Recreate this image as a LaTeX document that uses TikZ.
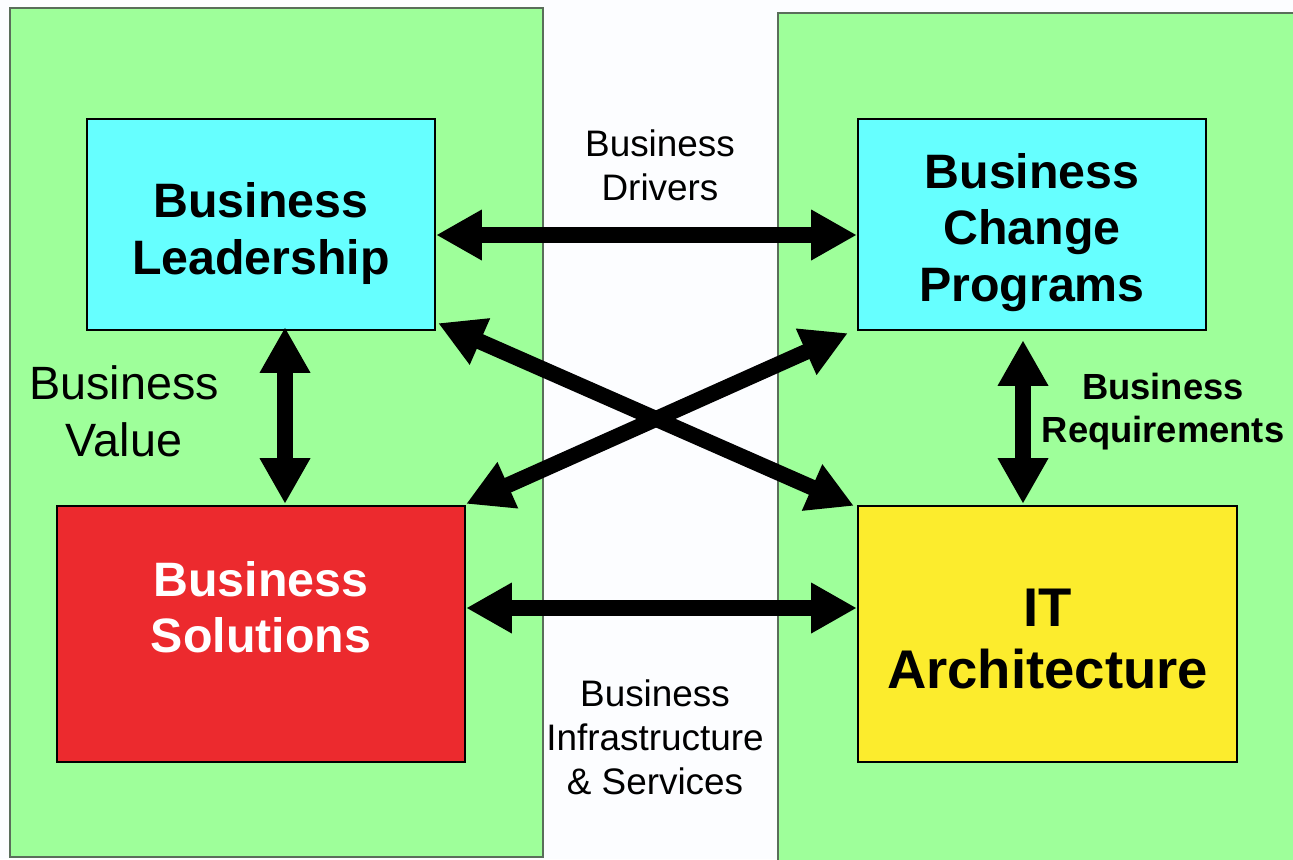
\documentclass[tikz,border=0pt]{standalone}
\usepackage{fontspec}
\setmainfont{Liberation Sans}
\usetikzlibrary{arrows.meta,calc}
\definecolor{panelgreen}{RGB}{158,255,154}
\definecolor{boxcyan}{RGB}{102,255,255}
\definecolor{boxred}{RGB}{236,42,46}
\definecolor{boxyellow}{RGB}{252,236,45}
\definecolor{paneledge}{RGB}{90,110,90}
\definecolor{bgwhite}{RGB}{252,253,255}
\begin{document}
\begin{tikzpicture}[x=0.02cm,y=-0.02cm,
  panel/.style={fill=panelgreen,draw=paneledge,line width=1.2pt},
  box/.style={draw=black,line width=1.3pt,inner sep=0pt},
  boxtxt/.style={align=center,inner sep=0pt,font=\bfseries\fontsize{27.5}{32}\selectfont},
  dbl/.style={line width=9pt,{Triangle[length=26pt,width=27pt]}-{Triangle[length=26pt,width=27pt]}},
  lbl/.style={align=center,font=\fontsize{21}{25}\selectfont}]
\fill[bgwhite] (0,0) rectangle (1293,859);
\useasboundingbox (0,0) rectangle (1293,859);
\draw[panel] (10,8) rectangle (543,857);
\draw[panel] (778,13) rectangle (1310,880);
\node[box,fill=boxcyan,minimum width=348*0.02cm,minimum height=211*0.02cm] (lead) at (261,224.5) {};
\node[box,fill=boxcyan,minimum width=348*0.02cm,minimum height=211*0.02cm] (cp) at (1032,224.5) {};
\node[box,fill=boxred,minimum width=408*0.02cm,minimum height=256*0.02cm] (sol) at (261,634) {};
\node[box,fill=boxyellow,minimum width=379*0.02cm,minimum height=256*0.02cm] (it) at (1047.5,634) {};
\node[boxtxt] (leadtxt) at ($(lead)+(0,9)$) {Business\\Leadership};
\node[boxtxt] (cptxt) at ($(cp)+(0,8)$) {Business\\Change\\Programs};
\node[boxtxt,text=white] (soltxt) at ($(sol)+(0,-27)$) {Business\\Solutions};
\node[boxtxt,font=\bfseries\fontsize{31}{35.5}\selectfont] (ittxt) at ($(it)+(0,5)$) {IT\\Architecture};
\node[lbl] (drv) at (660,165) {Business\\Drivers};
\node[lbl] (inf) at (655,737) {Business\\Infrastructure\\\& Services};
\node[align=center,font=\fontsize{26.6}{32.5}\selectfont] (val) at (124,411) {Business\\Value};
\node[align=center,font=\bfseries\fontsize{20.7}{24.5}\selectfont] (req) at (1163,412) {Business\\Requirements};
\draw[dbl] ($(lead.east)+(0,10.5)$) -- ($(cp.west)+(0,10.5)$);
\draw[dbl] ($(sol.east)+(0,-26)$) -- ($(it.west)+(0,-26)$);
\draw[dbl] ($(lead.south)+(24,-4)$) -- ($(sol.north)+(24,-1)$);
\draw[dbl] ($(cp.south)+(-9,9)$) -- ($(it.north)+(-24.5,-1)$);
\draw[dbl] ($(lead.south east)+(2,-8)$) -- ($(it.north west)+(-3,1)$);
\draw[dbl] ($(sol.north east)+(0,-1)$) -- ($(cp.south west)+(-9,2)$);
\end{tikzpicture}
\end{document}
